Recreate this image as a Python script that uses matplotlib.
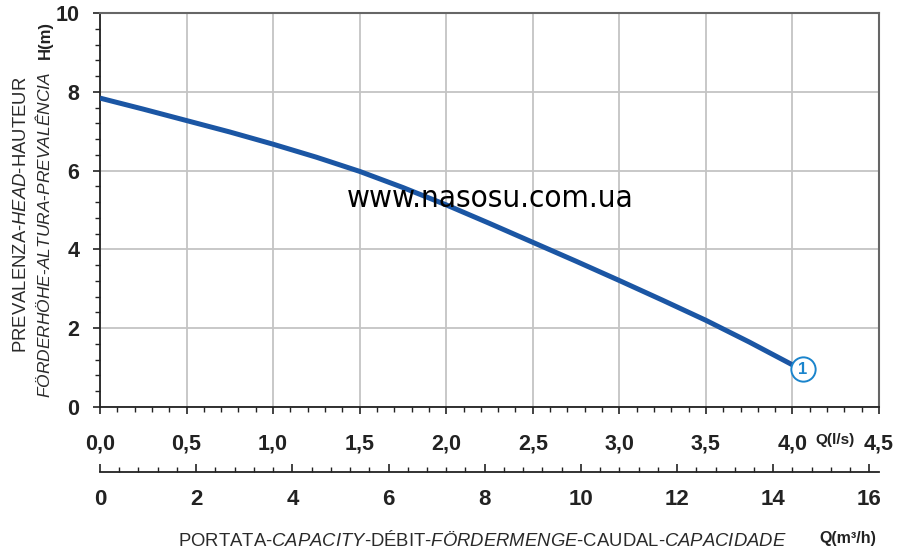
import matplotlib.pyplot as plt
from matplotlib.ticker import MultipleLocator

plt.rcParams['font.family'] = ['Liberation Sans', 'DejaVu Sans']
plt.rcParams['mathtext.fontset'] = 'custom'
plt.rcParams['mathtext.rm'] = 'Liberation Sans'
plt.rcParams['mathtext.it'] = 'Liberation Sans:italic'

# curve 1: Q in l/s, H in m
q_ls = [0.0, 0.25, 0.5, 0.75, 1.0, 1.25, 1.5, 1.75, 2.0, 2.25, 2.5, 2.75,
        3.0, 3.25, 3.5, 3.75, 4.0]
h_m = [7.84, 7.56, 7.27, 6.98, 6.67, 6.34, 5.98, 5.57, 5.13, 4.66, 4.18, 3.70,
       3.21, 2.71, 2.20, 1.65, 1.07]
curve_label = '1'
label_q, label_h = 4.06, 0.96

x_ticks = [0.0, 0.5, 1.0, 1.5, 2.0, 2.5, 3.0, 3.5, 4.0, 4.5]
x_labels = ['0,0', '0,5', '1,0', '1,5', '2,0', '2,5', '3,0', '3,5', '4,0', '4,5']
y_ticks = [0, 2, 4, 6, 8, 10]
m3h_ticks = [0, 2, 4, 6, 8, 10, 12, 14, 16]

W, H = 906, 552
fig = plt.figure(figsize=(W / 100, H / 100), dpi=100)
ax = fig.add_axes([100 / W, 145 / H, 779 / W, 394 / H])

ax.plot(q_ls, h_m, color='#1b56a4', lw=3.6, zorder=3, solid_capstyle='butt')
ax.plot([label_q], [label_h], 'o', ms=17.5, mfc='white', mec='#1a84cc', mew=1.4,
        zorder=4, clip_on=False)
ax.text(label_q, label_h, curve_label, ha='center', va='center', color='#1a84cc',
        fontweight='bold', fontsize=12, zorder=5)

ax.set_xlim(0, 4.5)
ax.set_ylim(0, 10)
ax.set_xticks(x_ticks, x_labels)
ax.set_yticks(y_ticks)
ax.xaxis.set_minor_locator(MultipleLocator(0.1))
ax.yaxis.set_minor_locator(MultipleLocator(0.4))
ax.tick_params(which='major', direction='out', length=5, width=1.2, colors='#222',
               labelsize=15.5)
ax.tick_params(which='minor', direction='out', length=3.5, width=1.0, colors='#222')
ax.tick_params(axis='x', which='major', pad=14)
ax.tick_params(axis='y', which='major', pad=10)
for lab in ax.get_xticklabels() + ax.get_yticklabels():
    lab.set_fontweight('bold')

ax.grid(which='major', color='#c4c4c4', lw=1.3)
ax.set_axisbelow(True)
for s in ['left', 'bottom']:
    ax.spines[s].set_color('#222')
    ax.spines[s].set_linewidth(1.3)
for s in ['top', 'right']:
    ax.spines[s].set_color('#666')
    ax.spines[s].set_linewidth(1.5)

# second flow scale in m3/h
sec = ax.secondary_xaxis(-65 / 394, functions=(lambda q: q * 3.6, lambda m: m / 3.6))
sec.set_xticks(m3h_ticks, [str(t) for t in m3h_ticks])
sec.xaxis.set_minor_locator(MultipleLocator(0.4))
sec.tick_params(which='major', direction='in', length=6, width=1.2, colors='#222', pad=12)
sec.tick_params(which='minor', direction='in', length=3.5, width=1.0, colors='#222')
sec.spines['bottom'].set_color('#222')
sec.spines['bottom'].set_linewidth(1.3)
for lab in sec.get_xticklabels():
    lab.set_fontweight('bold')
    lab.set_fontsize(16)

fig.text(835 / W, 1 - 440 / H, 'Q(l/s)', ha='center', va='center', fontsize=11,
         fontweight='bold', color='#222')
fig.text(848 / W, 1 - 539 / H, 'Q(m³/h)', ha='center', va='center', fontsize=11.5,
         fontweight='bold', color='#222')
fig.text(482 / W, 1 - 540 / H,
         r'PORTATA-$\mathit{CAPACITY}$-DÉBIT-$\mathit{FÖRDERMENGE}$-CAUDAL-$\mathit{CAPACIDADE}$',
         ha='center', va='center', fontsize=13.3, color='#2a2a2a')

fig.text(22 / W, 1 - 215 / H, r'PREVALENZA-$\mathit{HEAD}$-HAUTEUR', rotation=90,
         ha='center', va='center', fontsize=13.3, color='#2a2a2a')
fig.text(44 / W, 1 - 235 / H, r'$\mathit{FÖRDERHÖHE}$-$\mathit{ALTURA}$-$\mathit{PREVALÊNCIA}$',
         rotation=90, ha='center', va='center', fontsize=12.5, color='#2a2a2a')
fig.text(45 / W, 1 - 40 / H, 'H(m)', rotation=90, ha='center', va='center',
         fontsize=12, fontweight='bold', color='#222')

fig.text(490 / W, 1 - 199 / H, 'www.nasosu.com.ua', ha='center', va='center',
         fontsize=22.5, color='black', family='DejaVu Sans', fontstretch='condensed',
         zorder=10)

fig.savefig('out.png', dpi=100)
